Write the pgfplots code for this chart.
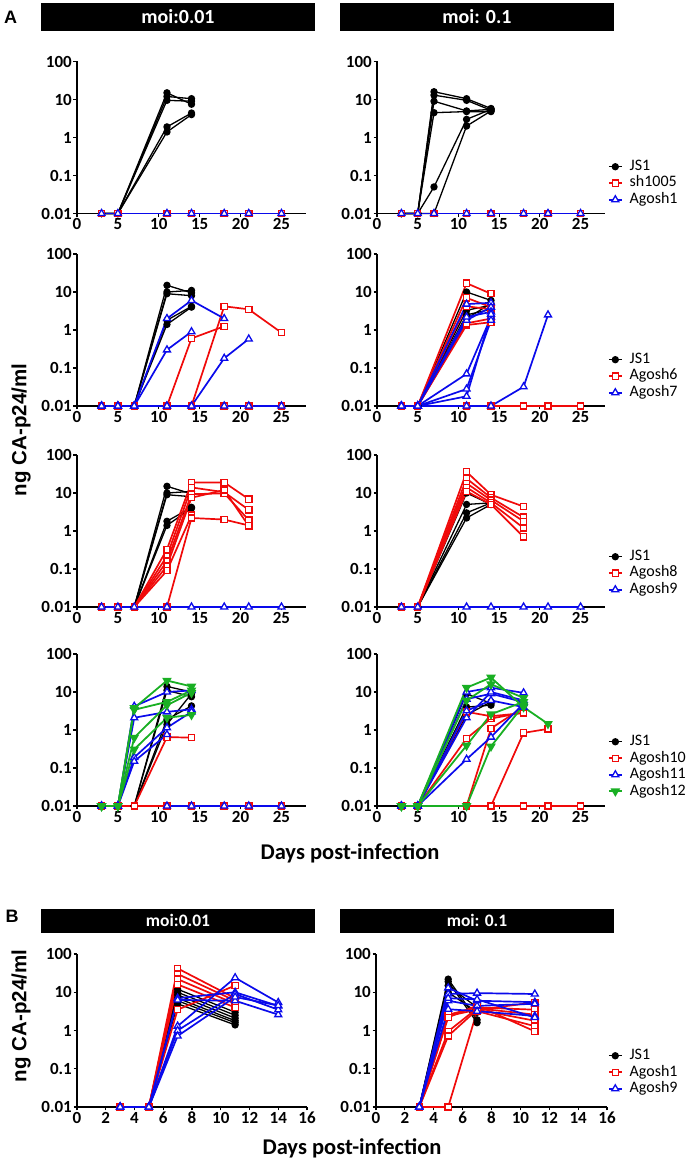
\documentclass[border=0pt]{standalone}
\usepackage{pgfplots}
\pgfplotsset{compat=1.18}
\usepackage{fontspec}
\setmainfont{Carlito}
\newfontfamily\arialf{Liberation Sans}
\definecolor{cred}{RGB}{240,10,10}
\definecolor{cblue}{RGB}{10,10,235}
\definecolor{cgreen}{RGB}{25,175,35}
\pgfplotsset{
 legend image code/.code={\draw[mark repeat=2,mark phase=2,#1] plot coordinates {(0bp,0bp) (6.5bp,0bp) (13bp,0bp)};},
 sJ/.style={black, line width=1.3bp, mark=*, mark size=3bp, mark options={solid, fill=black}},
 sR/.style={cred, line width=1.7bp, mark=square*, mark size=3.1bp, mark options={solid, fill=white, line width=1.3bp}},
 sB/.style={cblue, line width=1.7bp, mark=triangle*, mark size=4bp, mark options={solid, fill=white, line width=1.3bp}},
 sG/.style={cgreen, line width=1.8bp, mark=triangle*, mark size=3.8bp, mark options={solid, fill=cgreen, rotate=180}},
 every axis/.append style={scale only axis, ymode=log, ymin=0.01, ymax=100, xmin=0,
   axis x line*=bottom, axis y line*=left, axis line style={line width=1.2bp, black, -},
   ytick={0.01,0.1,1,10,100}, yticklabels={0.01,0.1,1,10,100}, yminorticks=false,
   tick align=outside, major tick length=3.5bp, tick style={black, line width=1.1bp},
   tick label style={font=\bfseries\fontsize{17bp}{17bp}\selectfont, inner sep=1.5bp},
   clip=false, anchor=south west},
 legend style={anchor=north west, draw=none, fill=none, inner sep=0pt, outer sep=0pt,
     row sep=3bp, font=\fontsize{16bp}{16bp}\selectfont, cells={anchor=west},
     nodes={inner sep=0pt, text height=10.5bp, text depth=3bp},
     /tikz/every odd column/.append style={column sep=7bp}},
 panA/.style={xmax=28, xtick={0,5,10,15,20,25}, xticklabels={0,5,10,15,20,25}, height=152bp},
 panB/.style={xmax=16, xtick={0,2,4,6,8,10,12,14,16}, xticklabels={0,2,4,6,8,10,12,14,16}, height=153bp},
}
\newcommand{\J}[1]{\addplot[sJ, forget plot] coordinates {#1};}
\newcommand{\R}[1]{\addplot[sR, forget plot] coordinates {#1};}
\newcommand{\Bl}[1]{\addplot[sB, forget plot] coordinates {#1};}
\newcommand{\G}[1]{\addplot[sG, forget plot] coordinates {#1};}
\begin{document}
\begin{tikzpicture}
\useasboundingbox (0,0) rectangle (699bp,1163bp);
% headers
\fill[black] (41bp,1132bp) rectangle (315bp,1160bp);
\fill[black] (340bp,1132bp) rectangle (614bp,1160bp);
\node[white, anchor=base, font=\bfseries\fontsize{20bp}{20bp}\selectfont] at (178bp,1139.5bp) {moi:0.01};
\node[white, anchor=base, font=\bfseries\fontsize{20bp}{20bp}\selectfont] at (477bp,1139.5bp) {moi: 0.1};
\fill[black] (41bp,230bp) rectangle (315bp,254bp);
\fill[black] (340bp,230bp) rectangle (614bp,254bp);
\node[white, anchor=base, font=\bfseries\fontsize{17.5bp}{17.5bp}\selectfont] at (178bp,236.3bp) {moi:0.01};
\node[white, anchor=base, font=\bfseries\fontsize{17.5bp}{17.5bp}\selectfont] at (477bp,236.3bp) {moi: 0.1};
\node[font=\arialf\bfseries\fontsize{18bp}{18bp}\selectfont] at (10.5bp,1145.5bp) {A};
\node[font=\arialf\bfseries\fontsize{18bp}{18bp}\selectfont] at (12bp,246.5bp) {B};
\node[rotate=90, font=\arialf\bfseries\fontsize{20.5bp}{20.5bp}\selectfont] at (21bp,733bp) {ng CA-p24/ml};
\node[rotate=90, font=\arialf\bfseries\fontsize{20.5bp}{20.5bp}\selectfont] at (21bp,147bp) {ng CA-p24/ml};
\node[font=\bfseries\fontsize{22.5bp}{22.5bp}\selectfont] at (350bp,310bp) {Days post-infection};
\node[font=\bfseries\fontsize{22.5bp}{22.5bp}\selectfont] at (352bp,15bp) {Days post-infection};

% ---------- Row 1 left
\begin{axis}[panA, at={(77bp,949.5bp)}, width=229bp]
\J{(3,0.01)(5,0.01)(11,15)(14,7.5)}
\J{(3,0.01)(5,0.01)(11,12)(14,10.5)}
\J{(3,0.01)(5,0.01)(11,9.5)(14,9)}
\J{(3,0.01)(5,0.01)(11,1.9)(14,4.4)}
\J{(3,0.01)(5,0.01)(11,1.4)(14,4)}
\R{(3,0.01)(5,0.01)(11,0.01)(14,0.01)(18,0.01)(21,0.01)(25,0.01)}
\Bl{(3,0.01)(5,0.01)(11,0.01)(14,0.01)(18,0.01)(21,0.01)(25,0.01)}
\end{axis}
% ---------- Row 1 right
\begin{axis}[panA, at={(377bp,949.5bp)}, width=228bp, legend style={at={(1.013,0.352)}}]
\J{(3,0.01)(5,0.01)(7,16)(11,10.5)(14,5.8)}
\J{(3,0.01)(5,0.01)(7,13)(11,9.5)(14,5.2)}
\J{(3,0.01)(5,0.01)(7,9)(11,5)(14,5.5)}
\J{(3,0.01)(5,0.01)(7,4.5)(11,4.8)(14,4.8)}
\J{(3,0.01)(5,0.01)(7,0.05)(11,3)(14,5.5)}
\J{(3,0.01)(5,0.01)(7,0.01)(11,2)(14,5)}
\R{(3,0.01)(5,0.01)(7,0.01)(11,0.01)(14,0.01)(18,0.01)(21,0.01)(25,0.01)}
\Bl{(3,0.01)(5,0.01)(7,0.01)(11,0.01)(14,0.01)(18,0.01)(21,0.01)(25,0.01)}
\addlegendimage{sJ}\addlegendentry{JS1}
\addlegendimage{sR}\addlegendentry{sh1005}
\addlegendimage{sB}\addlegendentry{Agosh1}
\end{axis}
% ---------- Row 2 left
\begin{axis}[panA, at={(77bp,757bp)}, width=229bp]
\J{(3,0.01)(5,0.01)(7,0.01)(11,15)(14,9.5)}
\J{(3,0.01)(5,0.01)(7,0.01)(11,10)(14,11)}
\J{(3,0.01)(5,0.01)(7,0.01)(11,9)(14,8)}
\J{(3,0.01)(5,0.01)(7,0.01)(11,1.8)(14,4.2)}
\J{(3,0.01)(5,0.01)(7,0.01)(11,1.4)(14,4)}
\R{(3,0.01)(5,0.01)(7,0.01)(11,0.01)(14,0.6)(18,1.25)}
\R{(3,0.01)(5,0.01)(7,0.01)(11,0.01)(14,0.01)(18,4.2)(21,3.5)(25,0.85)}
\R{(3,0.01)(5,0.01)(7,0.01)(11,0.01)(14,0.01)(18,0.01)(21,0.01)(25,0.01)}
\Bl{(3,0.01)(5,0.01)(7,0.01)(11,2)(14,6)(18,2)}
\Bl{(3,0.01)(5,0.01)(7,0.01)(11,0.3)(14,0.9)}
\Bl{(3,0.01)(5,0.01)(7,0.01)(11,0.01)(14,0.01)(18,0.18)(21,0.58)}
\Bl{(3,0.01)(5,0.01)(7,0.01)(11,0.01)(14,0.01)(18,0.01)(21,0.01)(25,0.01)}
\end{axis}
% ---------- Row 2 right
\begin{axis}[panA, at={(377bp,757bp)}, width=228bp, legend style={at={(1.013,0.349)}}]
\J{(3,0.01)(5,0.01)(11,10)(14,6)}
\J{(3,0.01)(5,0.01)(11,3.3)(14,4.5)}
\J{(3,0.01)(5,0.01)(11,2)(14,5)}
\J{(3,0.01)(5,0.01)(11,2.5)(14,3.5)}
\R{(3,0.01)(5,0.01)(11,17)(14,9)}
\R{(3,0.01)(5,0.01)(11,7)(14,4)}
\R{(3,0.01)(5,0.01)(11,4.2)(14,3.5)}
\R{(3,0.01)(5,0.01)(11,1.35)(14,1.6)}
\R{(3,0.01)(5,0.01)(11,1.5)(14,2)}
\R{(3,0.01)(5,0.01)(11,0.01)(14,0.01)(18,0.01)(21,0.01)(25,0.01)}
\Bl{(3,0.01)(5,0.01)(11,4.8)(14,5.2)}
\Bl{(3,0.01)(5,0.01)(11,1.8)(14,4)}
\Bl{(3,0.01)(5,0.01)(11,2.2)(14,3)}
\Bl{(3,0.01)(5,0.01)(11,0.07)(14,2.2)}
\Bl{(3,0.01)(5,0.01)(11,0.028)(14,1.8)}
\Bl{(3,0.01)(5,0.01)(11,0.018)(14,2.6)}
\Bl{(3,0.01)(5,0.01)(11,0.01)(14,0.01)(18,0.032)(21,2.5)}
\addlegendimage{sJ}\addlegendentry{JS1}
\addlegendimage{sR}\addlegendentry{Agosh6}
\addlegendimage{sB}\addlegendentry{Agosh7}
\end{axis}
% ---------- Row 3 left
\begin{axis}[panA, at={(77bp,556bp)}, width=229bp]
\J{(3,0.01)(5,0.01)(7,0.01)(11,15)(14,9.5)}
\J{(3,0.01)(5,0.01)(7,0.01)(11,10)(14,11)}
\J{(3,0.01)(5,0.01)(7,0.01)(11,9)(14,8)}
\J{(3,0.01)(5,0.01)(7,0.01)(11,1.8)(14,4.2)}
\J{(3,0.01)(5,0.01)(7,0.01)(11,1.4)(14,4)}
\R{(3,0.01)(5,0.01)(7,0.01)(11,0.33)(14,19)(18,19)(21,6.9)}
\R{(3,0.01)(5,0.01)(7,0.01)(11,0.22)(14,14)(18,10.5)(21,3.6)}
\R{(3,0.01)(5,0.01)(7,0.01)(11,0.16)(14,9.3)(18,9.8)(21,1.95)}
\R{(3,0.01)(5,0.01)(7,0.01)(11,0.12)(14,7.5)(18,12)(21,1.35)}
\R{(3,0.01)(5,0.01)(7,0.01)(11,0.09)(14,2.6)}
\R{(3,0.01)(5,0.01)(7,0.01)(11,0.01)(14,2.2)(18,2.0)(21,1.4)}
\Bl{(3,0.01)(5,0.01)(7,0.01)(11,0.01)(14,0.01)(18,0.01)(21,0.01)(25,0.01)}
\end{axis}
% ---------- Row 3 right
\begin{axis}[panA, at={(377bp,556bp)}, width=228bp, legend style={at={(1.013,0.375)}}]
\J{(3,0.01)(5,0.01)(11,10)(14,5)}
\J{(3,0.01)(5,0.01)(11,5)(14,5.5)}
\J{(3,0.01)(5,0.01)(11,3)(14,5.5)}
\J{(3,0.01)(5,0.01)(11,2.2)(14,5)}
\R{(3,0.01)(5,0.01)(11,36)(14,9)(18,4.4)}
\R{(3,0.01)(5,0.01)(11,24)(14,7.5)(18,2.3)}
\R{(3,0.01)(5,0.01)(11,18)(14,6.5)(18,1.8)}
\R{(3,0.01)(5,0.01)(11,14)(14,5.5)(18,1.2)}
\R{(3,0.01)(5,0.01)(11,11)(14,5)(18,0.7)}
\Bl{(3,0.01)(5,0.01)(11,0.01)(14,0.01)(18,0.01)(21,0.01)(25,0.01)}
\addlegendimage{sJ}\addlegendentry{JS1}
\addlegendimage{sR}\addlegendentry{Agosh8}
\addlegendimage{sB}\addlegendentry{Agosh9}
\end{axis}
% ---------- Row 4 left
\begin{axis}[panA, at={(77bp,357bp)}, width=229bp]
\J{(3,0.01)(5,0.01)(7,0.01)(11,14)(14,10)}
\J{(3,0.01)(5,0.01)(7,0.01)(11,11)(14,7.5)}
\J{(3,0.01)(5,0.01)(7,0.01)(11,1.9)(14,4.3)}
\J{(3,0.01)(5,0.01)(7,0.01)(11,1.4)(14,9)}
\R{(3,0.01)(5,0.01)(7,0.01)(11,0.65)(14,0.63)}
\R{(3,0.01)(5,0.01)(7,0.01)(11,0.01)(14,0.01)(18,0.01)(21,0.01)(25,0.01)}
\Bl{(3,0.01)(5,0.01)(7,4.2)(11,10)(14,11)}
\Bl{(3,0.01)(5,0.01)(7,2.1)(11,3)(14,3.5)}
\Bl{(3,0.01)(5,0.01)(7,0.19)(11,1.15)(14,3)}
\Bl{(3,0.01)(5,0.01)(7,0.15)(11,0.76)}
\Bl{(11,0.01)(14,0.01)(18,0.01)(21,0.01)(25,0.01)}
\G{(3,0.01)(5,0.01)(7,3.8)(11,20)(14,14)}
\G{(3,0.01)(5,0.01)(7,3.4)(11,5.5)(14,11)}
\G{(3,0.01)(5,0.01)(7,0.63)(11,4.5)(14,9.5)}
\G{(3,0.01)(5,0.01)(7,0.31)(11,2.1)(14,2.5)}
\end{axis}
% ---------- Row 4 right
\begin{axis}[panA, at={(377bp,357bp)}, width=228bp, legend style={at={(1.013,0.467)}}]
\J{(3,0.01)(5,0.01)(11,9)(14,5)}
\J{(3,0.01)(5,0.01)(11,2.5)(14,5.5)}
\J{(3,0.01)(5,0.01)(11,4)(14,4.5)}
\R{(3,0.01)(5,0.01)(11,0.6)(14,2.0)(18,2.9)}
\R{(3,0.01)(5,0.01)(11,3.0)(14,2.3)(18,2.8)}
\R{(3,0.01)(5,0.01)(11,0.01)(14,1.1)(18,4)}
\R{(3,0.01)(5,0.01)(11,0.01)(14,0.01)(18,0.84)(21,1.07)}
\R{(3,0.01)(5,0.01)(11,0.01)(14,0.01)(18,0.01)(21,0.01)(25,0.01)}
\Bl{(3,0.01)(5,0.01)(11,10)(14,13)(18,9.5)}
\Bl{(3,0.01)(5,0.01)(11,6.5)(14,9)(18,5.4)}
\Bl{(3,0.01)(5,0.01)(11,3.2)(14,6)(18,4)}
\Bl{(3,0.01)(5,0.01)(11,2.1)(14,10)(18,6)}
\Bl{(3,0.01)(5,0.01)(11,0.17)(14,0.65)(18,5)}
\G{(3,0.01)(5,0.01)(11,13)(14,24)(18,4)(21,1.45)}
\G{(3,0.01)(5,0.01)(11,6)(14,16)(18,7)}
\G{(3,0.01)(5,0.01)(11,0.39)(14,2.6)(18,5.5)}
\G{(3,0.01)(5,0.01)(11,0.01)(14,0.37)(18,4.5)}
\addlegendimage{sJ}\addlegendentry{JS1}
\addlegendimage{sR}\addlegendentry{Agosh10}
\addlegendimage{sB}\addlegendentry{Agosh11}
\addlegendimage{sG}\addlegendentry{Agosh12}
\end{axis}
% ---------- B left
\begin{axis}[panB, at={(77bp,56bp)}, width=230bp]
\J{(3,0.01)(5,0.01)(7,12)(11,3)}
\J{(3,0.01)(5,0.01)(7,10)(11,2.5)}
\J{(3,0.01)(5,0.01)(7,8.5)(11,2.1)}
\J{(3,0.01)(5,0.01)(7,7)(11,1.8)}
\J{(3,0.01)(5,0.01)(7,6)(11,1.6)}
\J{(3,0.01)(5,0.01)(7,5)(11,1.4)}
\R{(3,0.01)(5,0.01)(7,42)(11,7)}
\R{(3,0.01)(5,0.01)(7,30)(11,6)}
\R{(3,0.01)(5,0.01)(7,22)(11,5)}
\R{(3,0.01)(5,0.01)(7,16)(11,4)}
\R{(3,0.01)(5,0.01)(7,3.5)(11,15)}
\Bl{(3,0.01)(5,0.01)(7,7)(11,10)(14,4.4)}
\Bl{(3,0.01)(5,0.01)(7,6.3)(11,6)(14,2.6)}
\Bl{(3,0.01)(5,0.01)(7,1.3)(11,24)(14,5.4)}
\Bl{(3,0.01)(5,0.01)(7,1.0)(11,9)(14,3.5)}
\Bl{(3,0.01)(5,0.01)(7,0.72)(11,7.5)(14,4.5)}
\end{axis}
% ---------- B right
\begin{axis}[panB, at={(376bp,56bp)}, width=231bp, legend style={at={(1.004,0.379)}}]
\J{(3,0.01)(5,22)(7,1.9)}
\J{(3,0.01)(5,19)(7,1.6)}
\J{(3,0.01)(5,15)(7,4)}
\J{(3,0.01)(5,10)(7,3)}
\R{(3,0.01)(5,2.4)(7,3.5)(11,5.4)}
\R{(3,0.01)(5,2.6)(7,4)(11,3.5)}
\R{(3,0.01)(5,0.95)(7,3.8)(11,2.6)}
\R{(3,0.01)(5,0.72)(7,3.5)(11,1.8)}
\R{(3,0.01)(5,0.01)(7,3.2)(11,1.3)}
\R{(3,0.01)(5,2.2)(7,4.5)(11,0.95)}
\Bl{(3,0.01)(5,13)(7,6)(11,5.5)}
\Bl{(3,0.01)(5,9)(7,9.5)(11,9)}
\Bl{(3,0.01)(5,6)(7,4.4)(11,5)}
\Bl{(3,0.01)(5,3.6)(7,3.2)(11,2.4)}
\Bl{(3,0.01)(5,7)(7,6.5)(11,2.2)}
\addlegendimage{sJ}\addlegendentry{JS1}
\addlegendimage{sR}\addlegendentry{Agosh1}
\addlegendimage{sB}\addlegendentry{Agosh9}
\end{axis}
\end{tikzpicture}
\end{document}
